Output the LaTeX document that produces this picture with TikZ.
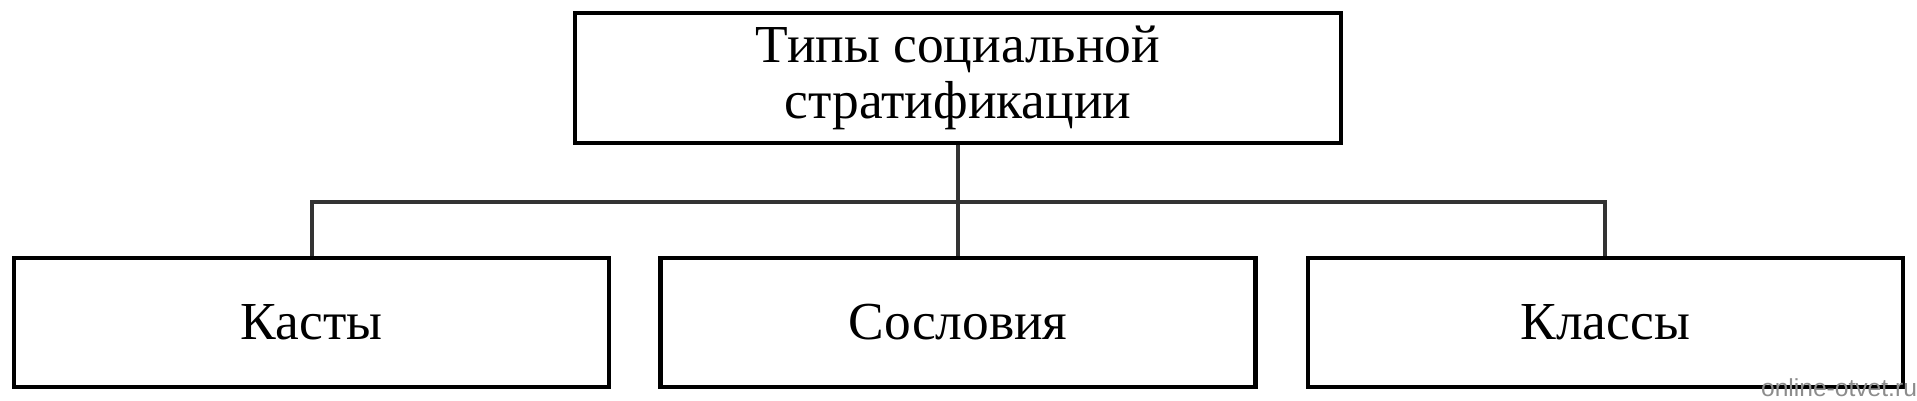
\documentclass[tikz,border=0pt]{standalone}
\usepackage{fontspec}
\setmainfont{Liberation Serif}
\newfontfamily\marksans{Liberation Sans}
\usepackage{tikz}
\usetikzlibrary{positioning}

\begin{document}
\begin{tikzpicture}[line width=1.2pt,node distance=0.47cm,
                    font=\fontsize{15.2}{15.8}\selectfont]
  \tikzstyle{root}=[rectangle,draw=black,fill=white,align=center,
                    minimum width=7.66cm,minimum height=1.30cm]
  \tikzstyle{place}=[rectangle,draw=black,fill=white,
                     minimum width=5.95cm,minimum height=1.29cm]
  \useasboundingbox (0,0) rectangle (19.17,4);

  \node[root] (types) at (9.58,3.22) {Типы социальной\\стратификации};
  \node[place] (estates) at (9.58,0.775) {Сословия};
  \node[place] (castes)  [left=of estates]  {Касты};
  \node[place] (classes) [right=0.48cm of estates] {Классы};

  \coordinate (fork) at (9.58,1.98);

  \draw[black!80] (types.south) -- (estates.north);
  \draw[black!80] (castes.north) |- (fork) -| (classes.north);

  \node[text=black!45,font=\marksans\fontsize{7}{8}\selectfont] (mark) at (18.39,0.12) {online-otvet.ru};

\end{tikzpicture}
\end{document}
